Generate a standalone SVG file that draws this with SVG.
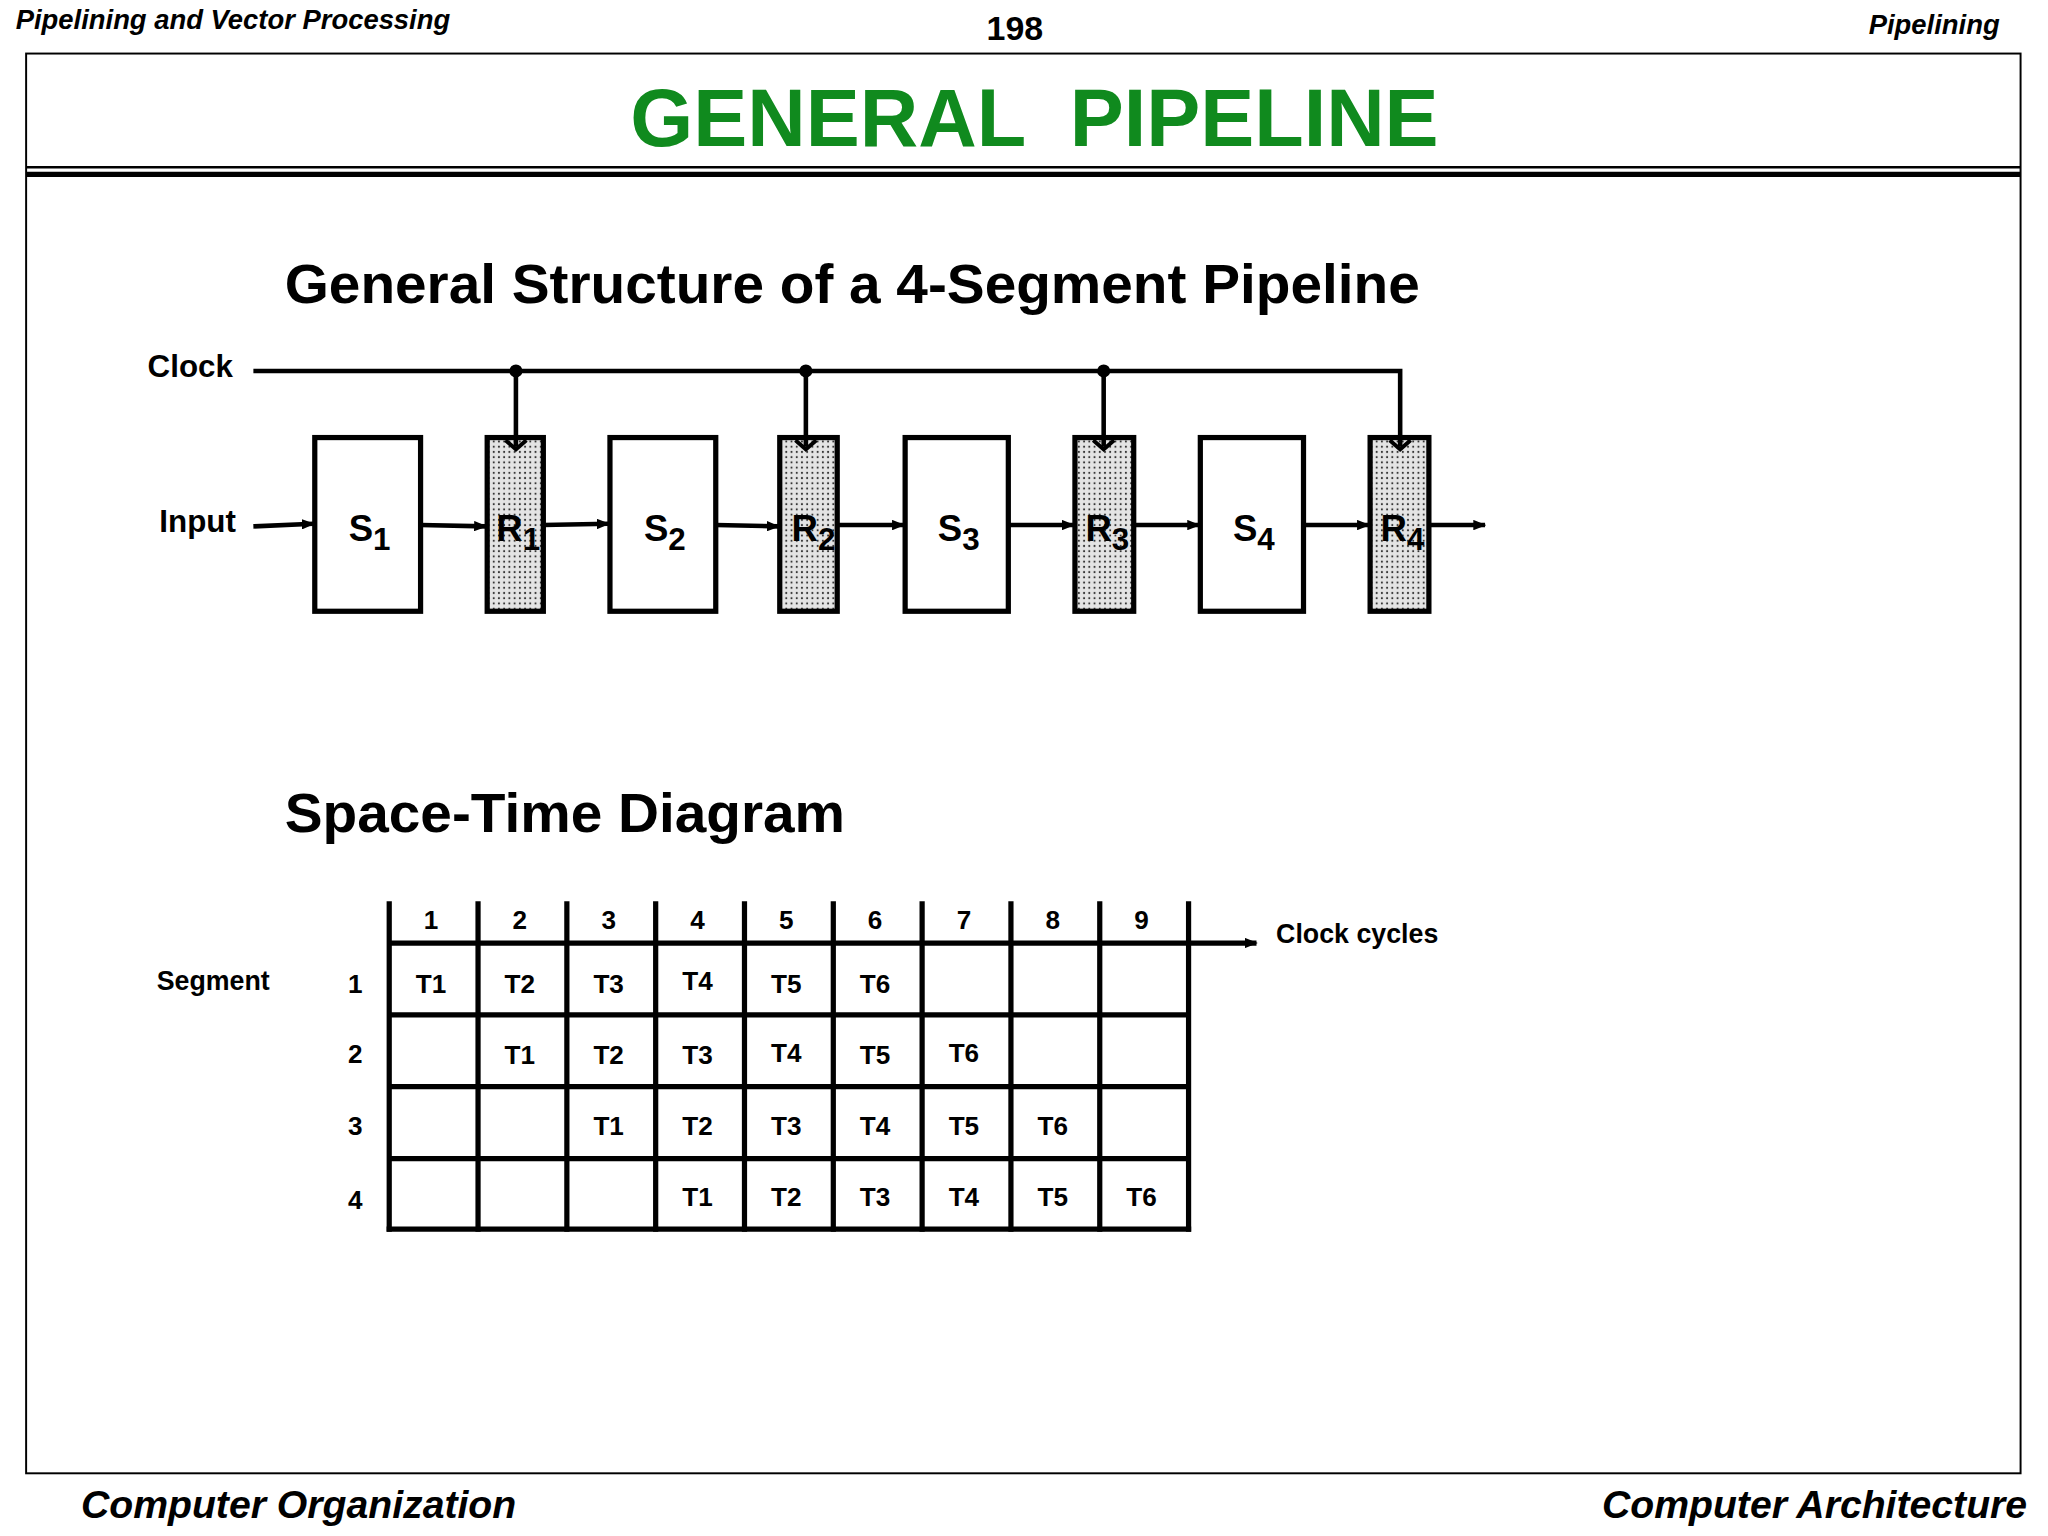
<svg xmlns="http://www.w3.org/2000/svg" width="2048" height="1536" viewBox="0 0 2048 1536">
<style>
text{font-family:"Liberation Sans",Arial,sans-serif;font-weight:bold;fill:#000}
.hdr{font-style:italic;font-size:21px}
.ft{font-style:italic;font-size:30px}
.st{font-size:43px}
.lbl{font-size:24px}
.bx{fill:#fff;stroke:#000;stroke-width:4}
.rg{fill:url(#dots);stroke:#000;stroke-width:4}
.ln{stroke:#000;stroke-width:3.5;fill:none}
.tl{stroke:#000;stroke-width:4;fill:none}
.c{font-size:20px;text-anchor:middle}
.sl{font-size:28px}
.sub{font-size:24px}
</style>
<defs>
<pattern id="dots" width="4" height="4" patternUnits="userSpaceOnUse">
<rect width="4" height="4" fill="#e4e4e4"/><circle cx="2" cy="2" r="0.8" fill="#333"/>
</pattern>
<marker id="ah" markerWidth="10" markerHeight="8" refX="9" refY="4" orient="auto" markerUnits="userSpaceOnUse">
<path d="M0,0 L10,4 L0,8 z" fill="#000"/>
</marker>
</defs>
<rect width="2048" height="1536" fill="#fff"/>
<g transform="scale(1.30612)">
<g id="header">
<text class="hdr" x="12" y="22">Pipelining and Vector Processing</text>
<text x="777" y="31" font-size="26" text-anchor="middle">198</text>
<text class="hdr" x="1531" y="26" text-anchor="end">Pipelining</text>
<rect x="20" y="41" width="1527" height="1087" fill="none" stroke="#000" stroke-width="1.5"/>
<line x1="20" y1="128" x2="1547" y2="128" stroke="#000" stroke-width="2"/>
<line x1="20" y1="133.5" x2="1547" y2="133.5" stroke="#000" stroke-width="4"/>
<text x="792" y="112" font-size="62" text-anchor="middle" style="fill:#108a1e;white-space:pre" xml:space="preserve">GENERAL  PIPELINE</text>
<text class="ft" x="62" y="1162">Computer Organization</text>
<text class="ft" x="1552" y="1162" text-anchor="end">Computer Architecture</text>
</g>
<text class="st" x="218" y="232" textLength="869" lengthAdjust="spacingAndGlyphs">General Structure of a 4-Segment Pipeline</text>
<text class="lbl" x="113" y="289">Clock</text>
<text class="lbl" x="122" y="407">Input</text>
<g id="S1"><rect class="bx" x="241" y="335" width="81" height="133"/><text class="sl" x="267" y="414">S<tspan class="sub" dy="7">1</tspan></text></g>
<g id="R1"><rect class="rg" x="373" y="335" width="43" height="133"/><text class="sl" x="380" y="414">R<tspan class="sub" dy="7">1</tspan></text></g>
<g id="S2"><rect class="bx" x="467" y="335" width="81" height="133"/><text class="sl" x="493" y="414">S<tspan class="sub" dy="7">2</tspan></text></g>
<g id="R2"><rect class="rg" x="597" y="335" width="44" height="133"/><text class="sl" x="606" y="414">R<tspan class="sub" dy="7">2</tspan></text></g>
<g id="S3"><rect class="bx" x="693" y="335" width="79" height="133"/><text class="sl" x="718" y="414">S<tspan class="sub" dy="7">3</tspan></text></g>
<g id="R3"><rect class="rg" x="823" y="335" width="45" height="133"/><text class="sl" x="831" y="414">R<tspan class="sub" dy="7">3</tspan></text></g>
<g id="S4"><rect class="bx" x="919" y="335" width="79" height="133"/><text class="sl" x="944" y="414">S<tspan class="sub" dy="7">4</tspan></text></g>
<g id="R4"><rect class="rg" x="1049" y="335" width="45" height="133"/><text class="sl" x="1057" y="414">R<tspan class="sub" dy="7">4</tspan></text></g>
<g id="connectors">
<polyline class="ln" points="194,284 1072,284 1072,342"/>
<line class="ln" x1="395" y1="284" x2="395" y2="342"/>
<line class="ln" x1="617" y1="284" x2="617" y2="342"/>
<line class="ln" x1="845" y1="284" x2="845" y2="342"/>
<circle cx="395" cy="284" r="5"/><circle cx="617" cy="284" r="5"/><circle cx="845" cy="284" r="5"/>
<g fill="none" stroke="#000" stroke-width="3">
<polyline points="387,337 395,344 403,337"/><polyline points="609,337 617,344 625,337"/>
<polyline points="837,337 845,344 853,337"/><polyline points="1064,337 1072,344 1080,337"/>
</g>
<g class="ln" marker-end="url(#ah)">
<line x1="194" y1="403" x2="240" y2="401"/>
<line x1="322" y1="402" x2="372" y2="403"/>
<line x1="416" y1="402" x2="466" y2="401"/>
<line x1="548" y1="402" x2="596" y2="403"/>
<line x1="641" y1="402" x2="692" y2="402"/>
<line x1="772" y1="402" x2="822" y2="402"/>
<line x1="868" y1="402" x2="918" y2="402"/>
<line x1="998" y1="402" x2="1048" y2="402"/>
<line x1="1094" y1="402" x2="1137" y2="402"/>
</g>
</g>
<text class="st" x="218" y="637" textLength="429" lengthAdjust="spacingAndGlyphs">Space-Time Diagram</text>
<g id="table">
<g class="tl">
<line x1="298" y1="690" x2="298" y2="943"/><line x1="366" y1="690" x2="366" y2="943"/>
<line x1="434" y1="690" x2="434" y2="943"/><line x1="502" y1="690" x2="502" y2="943"/>
<line x1="570" y1="690" x2="570" y2="943"/><line x1="638" y1="690" x2="638" y2="943"/>
<line x1="706" y1="690" x2="706" y2="943"/><line x1="774" y1="690" x2="774" y2="943"/>
<line x1="842" y1="690" x2="842" y2="943"/><line x1="910" y1="690" x2="910" y2="943"/>
<line x1="298" y1="777" x2="910" y2="777"/><line x1="298" y1="832" x2="910" y2="832"/>
<line x1="298" y1="887" x2="910" y2="887"/><line x1="296" y1="941" x2="912" y2="941"/>
<line x1="298" y1="722" x2="962" y2="722" marker-end="url(#ah)"/>
</g>
<text class="c" x="330" y="711">1</text><text class="c" x="398" y="711">2</text><text class="c" x="466" y="711">3</text>
<text class="c" x="534" y="711">4</text><text class="c" x="602" y="711">5</text><text class="c" x="670" y="711">6</text>
<text class="c" x="738" y="711">7</text><text class="c" x="806" y="711">8</text><text class="c" x="874" y="711">9</text>
<text x="977" y="722" font-size="20.5">Clock cycles</text>
<text x="120" y="758" font-size="20.5">Segment</text>
<text class="c" x="272" y="760">1</text><text class="c" x="272" y="814">2</text>
<text class="c" x="272" y="869">3</text><text class="c" x="272" y="926">4</text>
<text class="c" x="330" y="760">T1</text><text class="c" x="398" y="760">T2</text><text class="c" x="466" y="760">T3</text>
<text class="c" x="534" y="758">T4</text><text class="c" x="602" y="760">T5</text><text class="c" x="670" y="760">T6</text>
<text class="c" x="398" y="815">T1</text><text class="c" x="466" y="815">T2</text><text class="c" x="534" y="815">T3</text>
<text class="c" x="602" y="813">T4</text><text class="c" x="670" y="815">T5</text><text class="c" x="738" y="813">T6</text>
<text class="c" x="466" y="869">T1</text><text class="c" x="534" y="869">T2</text><text class="c" x="602" y="869">T3</text>
<text class="c" x="670" y="869">T4</text><text class="c" x="738" y="869">T5</text><text class="c" x="806" y="869">T6</text>
<text class="c" x="534" y="923">T1</text><text class="c" x="602" y="923">T2</text><text class="c" x="670" y="923">T3</text>
<text class="c" x="738" y="923">T4</text><text class="c" x="806" y="923">T5</text><text class="c" x="874" y="923">T6</text>
</g>
</g>
</svg>
